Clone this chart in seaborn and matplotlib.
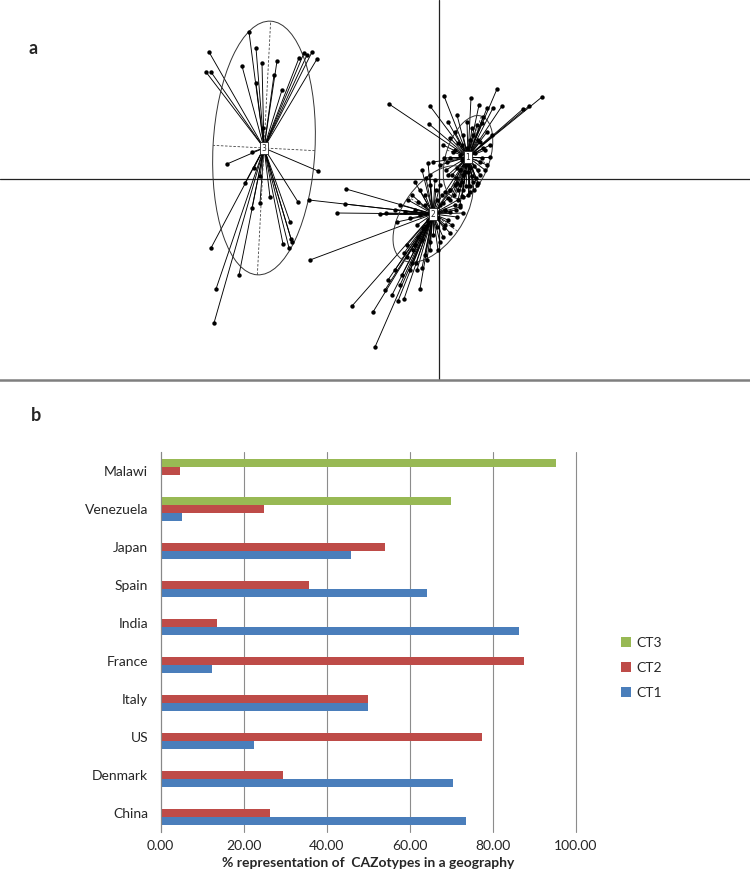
import numpy as np
import pandas as pd
import matplotlib
matplotlib.use("Agg")
import matplotlib.pyplot as plt
from matplotlib.patches import Ellipse
import seaborn as sns

# ---- panel a: class scores (axis 1 / axis 2) ----
g1_x = [-0.50, -0.09, 0.05, 0.32, 0.58, 1.03, 0.90, 0.84, 0.40, 0.63, 0.48, -0.10, 0.18, 0.44,
        0.54, 0.09, 0.28, 0.38, 0.48, 0.53, 0.51, 0.51, 0.48, 0.41, 0.38, 0.31, 0.21, 0.13, 0.01,
        -0.06, 0.08, 0.14, 0.19, 0.24, 0.34, 0.41, 0.44, 0.41, 0.31, 0.24, 0.18, 0.28, 0.36, 0.21,
        0.33, 0.16, 0.43, 0.04, 0.11, 0.46, 0.34, 0.16, 0.11, 0.06, 0.24, 0.09, 0.26, 0.39,
        0.23, 0.27, 0.31, 0.35, 0.39, 0.29, 0.33, 0.21, 0.17, 0.23, 0.27, 0.19, 0.15, 0.11, 0.19,
        0.23, 0.31, 0.37, 0.43, 0.46, 0.39, 0.31, 0.23, 0.16, 0.11, 0.05, 0.07, 0.35, 0.29, 0.21]
g1_y = [0.75, 0.73, 0.83, 0.81, 0.90, 0.82, 0.73, 0.70, 0.74, 0.73, 0.71, 0.55, 0.64, 0.62,
        0.71, 0.57, 0.57, 0.54, 0.47, 0.44, 0.34, 0.22, 0.14, 0.04, -0.06, -0.13, -0.06, 0.04, 0.14,
        0.17, 0.17, 0.27, 0.36, 0.44, 0.44, 0.37, 0.31, 0.17, 0.11, 0.04, 0.11, 0.31, 0.26, 0.24,
        0.51, 0.47, 0.56, 0.34, 0.41, 0.09, -0.03, -0.06, -0.11, -0.13, -0.11, 0.04, 0.07, -0.04,
        0.19, 0.14, 0.19, 0.13, 0.09, 0.07, 0.03, 0.09, 0.01, -0.03, -0.07, -0.11, -0.16, -0.21, -0.21,
        -0.17, -0.07, 0.01, 0.21, 0.29, 0.39, 0.39, 0.34, 0.29, 0.21, 0.21, 0.09, -0.11, -0.16, -0.26]

g2_x = [-0.93, -0.94, -1.02, -0.59, -0.53, -1.29, -1.30, -0.87, -0.66, -0.64, -0.51, -0.41, -0.35,
        -0.19, -0.37, -0.29, -0.17, -0.42, -0.31, -0.21, -0.19, -0.14, -0.02, 0.04, 0.11, 0.09, 0.18,
        0.24, 0.01, -0.09, -0.26, -0.32, -0.27, -0.02, 0.04, 0.11, 0.18, 0.24, 0.21, -0.16, -0.22,
        0.06, -0.06, -0.21, -0.32, -0.09, -0.12, -0.22, -0.11, -0.17, -0.35, -0.23,
        0.01, 0.06, 0.11, 0.16, 0.09, 0.03, -0.03, -0.09, -0.14, -0.11, -0.19, -0.24, -0.29, -0.34,
        -0.01, 0.05, 0.13, 0.17, -0.04, 0.01, -0.09, -0.13, -0.24, -0.27, -0.39, -0.44, -0.17, -0.24,
        -0.14, -0.01, -0.54, -0.47, -0.39, -0.44]
g2_y = [-0.10, -0.25, -0.34, -0.35, -0.34, -0.81, -0.21, -1.27, -1.33, -1.68, -1.01, -1.22, -1.20,
        -1.10, -0.96, -0.91, -0.89, -0.43, -0.21, -0.23, -0.11, -0.16, -0.48, -0.58, -0.54, -0.41, -0.38,
        -0.34, -0.63, -0.63, -0.71, -0.78, -0.84, -0.21, -0.24, -0.11, -0.04, -0.18, -0.28, -0.49, -0.46,
        -0.46, -0.56, -0.58, -0.66, -0.71, -0.81, -0.91, 0.16, 0.09, -0.74, -0.84,
        -0.26, -0.31, -0.33, -0.26, -0.19, -0.16, -0.11, -0.06, -0.26, -0.41, -0.36, -0.31, -0.39, -0.33,
        -0.39, -0.49, -0.46, -0.31, -0.01, -0.06, 0.04, 0.01, -0.03, -0.16, -0.26, -0.31, -0.61, -0.66,
        -0.76, -0.71, -1.11, -1.16, -1.06, -0.91]

g3_x = [-1.90, -2.30, -1.83, -1.77, -1.62, -1.35, -1.27, -1.22, -1.40, -1.32, -2.33, -2.28, -1.97,
        -1.57, -1.83, -1.65, -2.12, -1.21, -1.94, -1.41, -1.79, -1.87, -2.28, -1.49, -1.48, -1.50,
        -2.00, -2.23, -2.25, -1.56, -1.69, -1.87, -1.85, -1.47, -1.79, -1.76]
g3_y = [1.47, 1.27, 1.31, 1.16, 1.18, 1.26, 1.27, 1.20, 1.21, 1.24, 1.07, 1.07, 1.13,
        0.89, 0.96, 1.04, 0.15, 0.08, -0.04, -0.23, -0.24, -0.29, -0.69, -0.43, -0.60, -0.69,
        -0.96, -1.10, -1.44, -0.65, -0.18, 0.27, 0.11, -0.63, 0.03, 0.51]

class_names = ["1", "2", "3"]
centroid_x = [0.29, -0.06, -1.75]
centroid_y = [0.22, -0.35, 0.31]
ell_major = [0.43, 0.55, 1.27]
ell_minor = [0.22, 0.30, 0.51]
ell_angle = [72, 55, 87]

# ---- panel b: % representation of CAZotypes ----
countries = ["Malawi", "Venezuela", "Japan", "Spain", "India", "France", "Italy", "US", "Denmark", "China"]
ct1 = [0.0, 5.1, 46.0, 64.1, 86.4, 12.5, 50.0, 22.5, 70.5, 73.5]
ct2 = [4.6, 24.9, 54.0, 35.9, 13.6, 87.5, 50.0, 77.5, 29.4, 26.5]
ct3 = [95.4, 70.0, 0, 0, 0, 0, 0, 0, 0, 0]
series = ["CT3", "CT2", "CT1"]
colors = {"CT1": "#4a7ebb", "CT2": "#be4b48", "CT3": "#98b954"}

sns.set_style("white")
plt.rcParams["font.family"] = ["Lato", "DejaVu Sans"]

fig = plt.figure(figsize=(7.5, 8.8), dpi=100)

# panel a
axa = fig.add_axes([0, 1 - 380 / 880, 1, 380 / 880])
axa.set_xlim(-4.39, 3.11)
axa.set_ylim(-2.01, 1.79)
axa.axhline(0, color="#222222", lw=0.9, zorder=1)
axa.axvline(0, color="#222222", lw=0.9, zorder=1)

groups = [(g1_x, g1_y), (g2_x, g2_y), (g3_x, g3_y)]
pts = []
for i, (gx, gy) in enumerate(groups):
    cx, cy = centroid_x[i], centroid_y[i]
    for px, py in zip(gx, gy):
        axa.plot([cx, px], [cy, py], color="black", lw=0.65, zorder=2)
    pts.append(pd.DataFrame({"ax1": gx, "ax2": gy, "cls": class_names[i]}))
    # ellipse with dashed axes
    a, b, t = ell_major[i], ell_minor[i], np.deg2rad(ell_angle[i])
    axa.add_patch(Ellipse((cx, cy), 2 * a, 2 * b, angle=ell_angle[i], fill=False,
                          ec="#333333", lw=0.7, zorder=3))
    axa.plot([cx - a * np.cos(t), cx + a * np.cos(t)], [cy - a * np.sin(t), cy + a * np.sin(t)],
             ls=(0, (3, 2)), color="#444444", lw=0.6, zorder=3)
    axa.plot([cx + b * np.sin(t), cx - b * np.sin(t)], [cy - b * np.cos(t), cy + b * np.cos(t)],
             ls=(0, (3, 2)), color="#444444", lw=0.6, zorder=3)

pts = pd.concat(pts)
sns.scatterplot(data=pts, x="ax1", y="ax2", color="black", s=10, linewidth=0, ax=axa, zorder=4)
for i in range(3):
    axa.text(centroid_x[i], centroid_y[i], class_names[i], fontsize=5.5, ha="center", va="center",
             family="DejaVu Sans", zorder=6,
             bbox=dict(boxstyle="square,pad=0.25", fc="white", ec="#222222", lw=0.6))

axa.set_xlabel("")
axa.set_ylabel("")
axa.set_xticks([])
axa.set_yticks([])
for s in ["top", "left", "right"]:
    axa.spines[s].set_visible(False)
axa.spines["bottom"].set_color("#7f7f7f")
axa.spines["bottom"].set_linewidth(1.8)

fig.text(0.044, 0.945, "a", fontsize=13, fontweight="bold", ha="center", va="center")
fig.text(0.048, 0.528, "b", fontsize=13, fontweight="bold", ha="center", va="center")

# panel b
df = pd.DataFrame({
    "country": countries * 3,
    "value": ct1 + ct2 + ct3,
    "type": ["CT1"] * len(countries) + ["CT2"] * len(countries) + ["CT3"] * len(countries),
})
axb = fig.add_axes([160.5 / 750, 1 - 832 / 880, 415 / 750, 380 / 880])
sns.barplot(data=df, y="country", x="value", hue="type", hue_order=series, order=countries,
            palette=colors, orient="h", width=0.65, linewidth=0, saturation=1,
            errorbar=None, ax=axb)

axb.set_xlim(0, 100)
axb.set_xticks(np.arange(0, 101, 20))
axb.set_xticklabels([f"{v:.2f}" for v in np.arange(0, 101, 20)], fontsize=10)
axb.tick_params(axis="x", length=0, pad=6)
axb.tick_params(axis="y", which="major", length=0, pad=9, labelsize=10)
axb.set_yticks(np.arange(-0.5, len(countries), 1), minor=True)
axb.tick_params(axis="y", which="minor", length=4, color="#888888", width=0.8)
axb.xaxis.grid(True, color="#8c8c8c", lw=0.8)
for gl in axb.get_xgridlines():
    gl.set_clip_on(False)
axb.set_axisbelow(True)
for s in ["top", "right", "bottom"]:
    axb.spines[s].set_visible(False)
axb.spines["left"].set_color("#888888")
axb.spines["left"].set_linewidth(0.8)
axb.set_ylabel("")
axb.set_xlabel("% representation of  CAZotypes in a geography", fontsize=10,
               fontweight="bold", labelpad=3)

handles, labels = axb.get_legend_handles_labels()
axb.legend(handles, labels, loc="center left", bbox_to_anchor=(614 / 750, 1 - 668 / 880),
           bbox_transform=fig.transFigure, frameon=False, fontsize=10, handlelength=0.7,
           handleheight=0.7, handletextpad=0.4, labelspacing=0.95, borderpad=0)

fig.savefig("out.png", dpi=100)
